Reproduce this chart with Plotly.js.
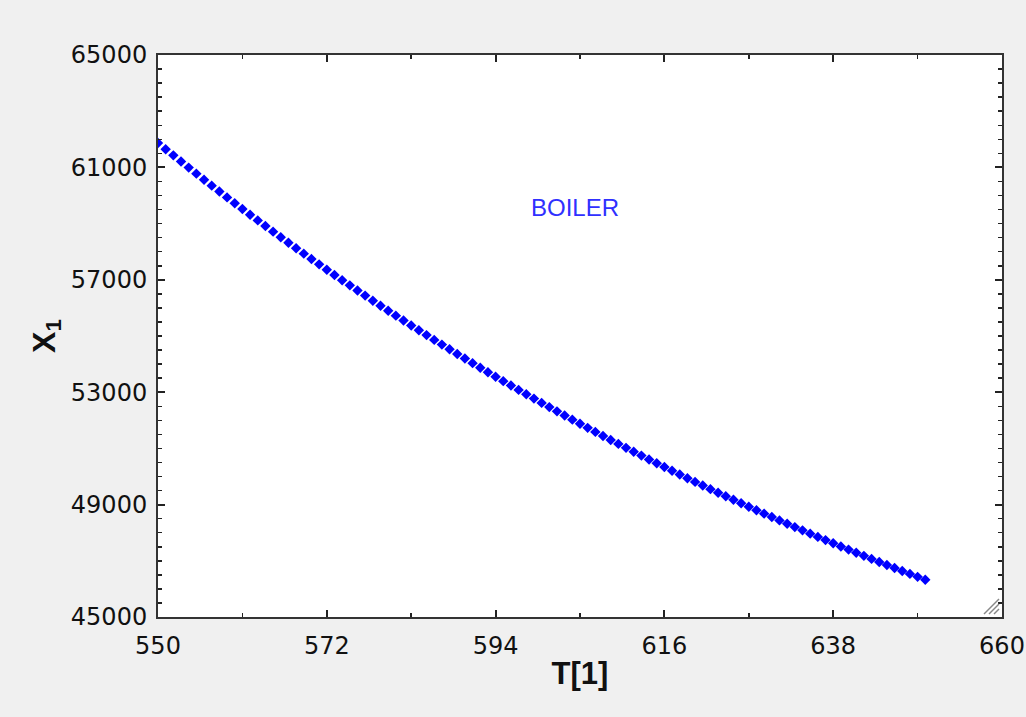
<!DOCTYPE html>
<html>
<head>
<meta charset="utf-8">
<script src="https://cdn.plot.ly/plotly-3.0.1.min.js"></script>
<style>html,body{margin:0;padding:0;background:#f0f0f0;}#chart{width:1026px;height:717px;}</style>
</head>
<body>
<div id="chart"></div>
<script>
// T[1] values (550 .. 650, step 1)
var temperatures = [];
for (var t = 550; t <= 650; t++) temperatures.push(t);

// X1 values
var x1Values = [
  61870, 61648, 61428, 61209, 60992, 60777, 60563, 60351, 60141, 59932,
  59725, 59519, 59315, 59113, 58912, 58713, 58515, 58319, 58124, 57931,
  57739, 57549, 57360, 57172, 56986, 56802, 56619, 56437, 56256, 56078,
  55900, 55724, 55549, 55375, 55203, 55032, 54862, 54694, 54527, 54361,
  54197, 54034, 53872, 53711, 53552, 53393, 53236, 53081, 52926, 52773,
  52620, 52469, 52319, 52170, 52023, 51876, 51731, 51587, 51443, 51301,
  51160, 51020, 50882, 50744, 50607, 50471, 50337, 50203, 50071, 49939,
  49808, 49679, 49550, 49423, 49296, 49171, 49046, 48922, 48800, 48678,
  48557, 48437, 48318, 48200, 48083, 47966, 47851, 47736, 47623, 47510,
  47398, 47287, 47177, 47067, 46959, 46851, 46744, 46638, 46533, 46429,
  46325
];

var xTicks = [550, 572, 594, 616, 638, 660];
var yTicks = [45000, 49000, 53000, 57000, 61000, 65000];
var annotationText = 'BOILER';

function px2paperX(p) { return (p - 158) / 844; }
function px2paperY(p) { return (617 - p) / 562; }

var grip = [];
[[984, 999], [989, 999], [994, 999]].forEach(function (g) {
  grip.push({
    type: 'line', xref: 'paper', yref: 'paper',
    x0: px2paperX(g[0]), y0: px2paperY(614),
    x1: px2paperX(g[1]), y1: px2paperY(614 - (g[1] - g[0])),
    line: {color: '#888888', width: 1.5}
  });
});

var trace = {
  x: temperatures,
  y: x1Values,
  type: 'scatter',
  mode: 'markers',
  marker: {symbol: 'diamond', size: 8, color: '#0000ff', line: {width: 0}},
  hoverinfo: 'x+y'
};

var tickFont = {family: 'DejaVu Sans, Liberation Sans, Arial, sans-serif', size: 24, color: '#111111'};

var layout = {
  width: 1026,
  height: 717,
  paper_bgcolor: '#f0f0f0',
  plot_bgcolor: '#ffffff',
  showlegend: false,
  margin: {l: 158, r: 24, t: 55, b: 100, pad: 0},
  xaxis: {
    range: [550, 660],
    tickmode: 'array',
    tickvals: xTicks,
    ticktext: xTicks.map(String),
    ticks: 'inside',
    ticklen: 7,
    tickwidth: 2,
    tickcolor: '#222222',
    minor: {ticks: 'inside', dtick: 11, tick0: 550, ticklen: 4, tickwidth: 1.5, tickcolor: '#222222', showgrid: false},
    showgrid: false,
    zeroline: false,
    showline: true,
    linecolor: '#333333',
    linewidth: 2,
    mirror: 'ticks',
    tickfont: tickFont,
    ticklabelstandoff: 6,
    title: {text: 'T[1]', font: {family: 'Liberation Sans, Arial, sans-serif', size: 31, color: '#111111', weight: 'bold'}, standoff: 4}
  },
  yaxis: {
    range: [45000, 65000],
    tickmode: 'array',
    tickvals: yTicks,
    ticktext: yTicks.map(String),
    ticks: 'inside',
    ticklen: 7,
    tickwidth: 2,
    tickcolor: '#222222',
    minor: {ticks: 'inside', dtick: 500, tick0: 45000, ticklen: 4, tickwidth: 1.5, tickcolor: '#222222', showgrid: false},
    showgrid: false,
    zeroline: false,
    showline: true,
    linecolor: '#333333',
    linewidth: 2,
    mirror: 'ticks',
    tickfont: tickFont,
    ticklabelstandoff: 4,
    title: {text: 'X<sub>1</sub>', font: {family: 'Liberation Sans, Arial, sans-serif', size: 32, color: '#111111', weight: 'bold'}, standoff: 6}
  },
  annotations: [{
    text: annotationText,
    xref: 'paper', yref: 'paper',
    x: px2paperX(575), y: px2paperY(208),
    xanchor: 'center', yanchor: 'middle',
    showarrow: false,
    font: {family: 'Liberation Sans, Arial, sans-serif', size: 24, color: '#3030ff'}
  }],
  shapes: grip
};

Plotly.newPlot('chart', [trace], layout, {displayModeBar: false, staticPlot: true});
</script>
</body>
</html>
